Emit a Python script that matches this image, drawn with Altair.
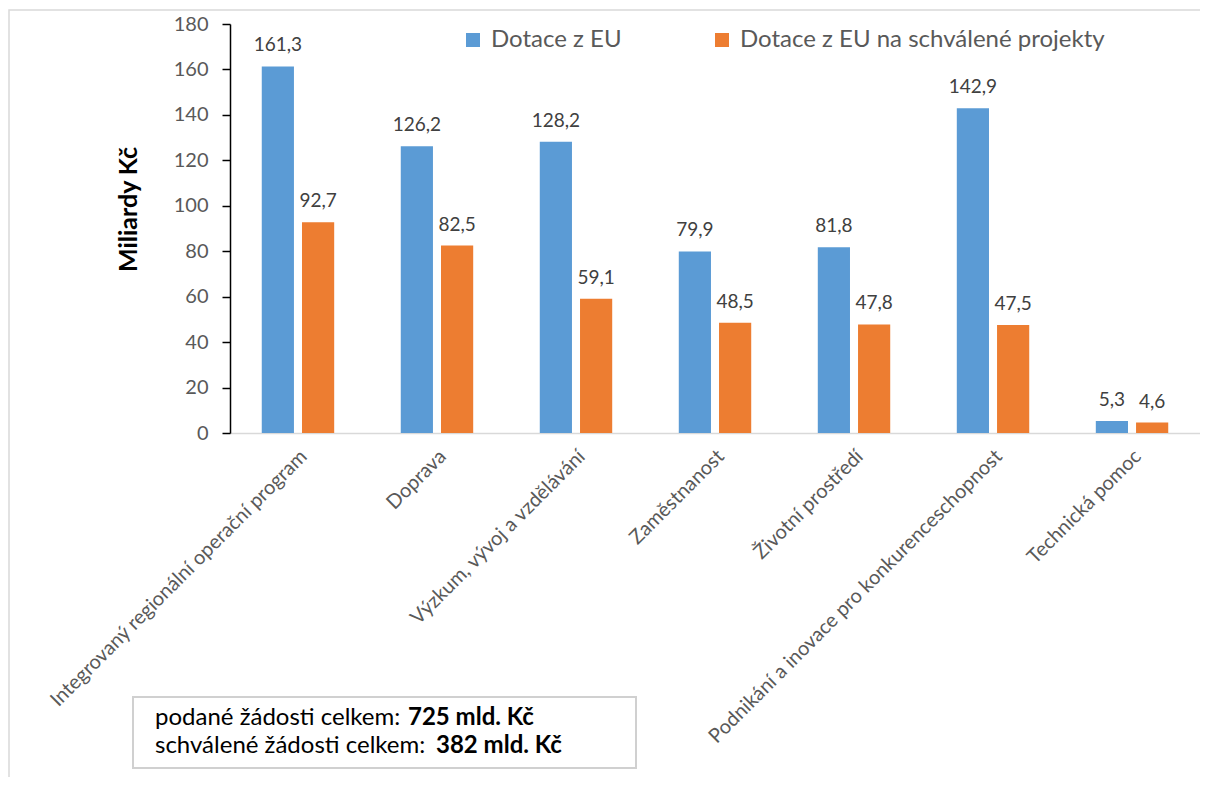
import altair as alt
import pandas as pd

categories = [
    "Integrovaný regionální operační program",
    "Doprava",
    "Výzkum, vývoj a vzdělávání",
    "Zaměstnanost",
    "Životní prostředí",
    "Podnikání a inovace pro konkurenceschopnost",
    "Technická pomoc",
]
series = ["Dotace z EU", "Dotace z EU na schválené projekty"]
dotace = [161.3, 126.2, 128.2, 79.9, 81.8, 142.9, 5.3]
schvalene = [92.7, 82.5, 59.1, 48.5, 47.8, 47.5, 4.6]
colors = ["#5B9BD5", "#ED7D31"]

rows = []
for c, a, b in zip(categories, dotace, schvalene):
    rows.append({"cat": c, "series": series[0], "value": a, "label": f"{a:.1f}".replace(".", ",")})
    rows.append({"cat": c, "series": series[1], "value": b, "label": f"{b:.1f}".replace(".", ",")})
df = pd.DataFrame(rows)

FONT = "Lato"

x_enc = alt.X(
    "cat:N",
    sort=categories,
    scale=alt.Scale(paddingInner=0.45, paddingOuter=0.214),
    axis=alt.Axis(
        title=None,
        labelAngle=-45,
        labelAlign="right",
        labelBaseline="middle",
        labelFontSize=20,
        labelColor="#595959",
        labelLimit=700,
        labelPadding=20,
        labelOffset=6,
        ticks=False,
        domainColor="#d9d9d9",
        domainWidth=1.5,
    ),
)
xo_enc = alt.XOffset("series:N", sort=series, scale=alt.Scale(paddingInner=0.2, paddingOuter=0.05))
y_enc = alt.Y(
    "value:Q",
    scale=alt.Scale(domain=[0, 180], nice=False),
    axis=alt.Axis(
        values=list(range(0, 181, 20)),
        grid=False,
        domainColor="black",
        domainWidth=1.5,
        tickColor="black",
        tickWidth=1.5,
        tickSize=8,
        labelFontSize=20,
        labelColor="#595959",
        labelPadding=14,
        title="Miliardy Kč",
        titleFontSize=25,
        titleFontWeight="bold",
        titleColor="black",
        titleX=-102,
        titleY=185,
        titleAlign="center",
        titleBaseline="middle",
    ),
)

bars = alt.Chart(df).mark_bar().encode(
    x=x_enc,
    xOffset=xo_enc,
    y=y_enc,
    color=alt.Color(
        "series:N",
        sort=series,
        scale=alt.Scale(domain=series, range=colors),
        legend=alt.Legend(
            title=None,
            orient="none",
            legendX=231,
            legendY=4,
            direction="horizontal",
            symbolType="square",
            symbolSize=196,
            symbolStrokeWidth=0,
            labelFontSize=24,
            labelColor="#595959",
            labelLimit=700,
            labelOffset=6,
            columnPadding=88,
        ),
    ),
)

labels = alt.Chart(df).mark_text(
    dy=-15, baseline="alphabetic", fontSize=19, color="#404040"
).encode(x=alt.X("cat:N", sort=categories), xOffset=alt.XOffset("series:N", sort=series), y="value:Q", text="label:N")

one = pd.DataFrame({"a": [0]})
frame = alt.Chart(one).mark_rect(filled=False, stroke="#d9d9d9", strokeWidth=1.5).encode(
    x=alt.value(-221), x2=alt.value(1200), y=alt.value(-14), y2=alt.value(900)
)
box = alt.Chart(one).mark_rect(filled=False, stroke="#d0d0d0", strokeWidth=2).encode(
    x=alt.value(-97), x2=alt.value(406), y=alt.value(673), y2=alt.value(744)
)
line_texts = [
    ("podané žádosti celkem:", "725 mld. Kč", 701, 178),
    ("schválené žádosti celkem:", "382 mld. Kč", 729, 206),
]
txt_layers = []
for normal, bold, yy, xb in line_texts:
    t = pd.DataFrame({"t": [normal]})
    txt_layers.append(
        alt.Chart(t).mark_text(align="left", baseline="alphabetic", fontSize=24, color="black").encode(
            x=alt.value(-75), y=alt.value(yy), text="t:N"
        )
    )
    t2 = pd.DataFrame({"t": [bold]})
    txt_layers.append(
        alt.Chart(t2).mark_text(align="left", baseline="alphabetic", fontSize=24, fontWeight="bold", color="black").encode(
            x=alt.value(xb), y=alt.value(yy), text="t:N"
        )
    )

chart = alt.layer(frame, bars, labels, box, *txt_layers).properties(
    width=970,
    height=409,
    padding={"left": 222, "top": 16, "right": 0, "bottom": 344},
    autosize=alt.AutoSizeParams(type="none"),
).configure(font=FONT).configure_view(stroke=None)

chart.save("out.html", embed_options={"renderer": "svg", "actions": False})
